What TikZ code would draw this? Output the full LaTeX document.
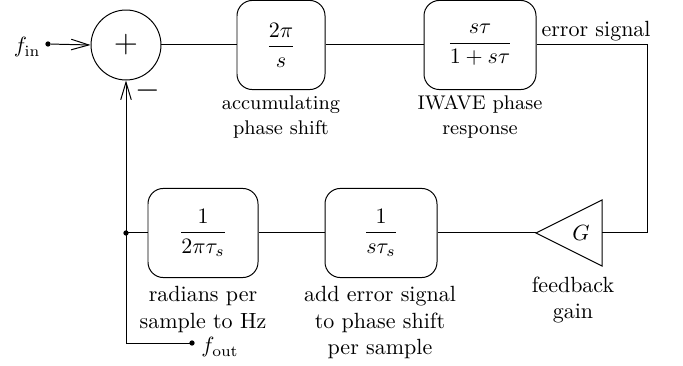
\documentclass[tikz,border=0pt]{standalone}
\usetikzlibrary{arrows.meta}
\begin{document}
\begin{tikzpicture}[x=0.4545pt,y=-0.4545pt,
  line width=0.45pt,
  blk/.style={draw, rounded corners=7pt, minimum height=40.5pt, inner sep=0pt},
  sumc/.style={draw, circle, minimum size=31.8pt, inner sep=0pt},
  toplab/.style={font=\small, align=center, inner sep=0pt},
  botlab/.style={align=center, inner sep=0pt},
  dotn/.style={circle, fill, inner sep=0pt, minimum size=2.4pt},
  arr/.style={-{Straight Barb[length=8pt,width=4.8pt]}}]
\useasboundingbox (0,0) rectangle (683,366);
% top row
\node[dotn] (fin) at (48,44) {};
\node[anchor=base east, inner sep=0pt] (finl) at (41,53) {$f_{\mathrm{in}}$};
\node[sumc] (sum) at (126,45) {\Large$+$};
\node (minus) at (148,91) {\Large$-$};
\node[blk, minimum width=40pt] (b1) at (281,45) {$\displaystyle\frac{2\pi}{s}$};
\node[blk, minimum width=50.9pt] (b2) at (480,45) {$\displaystyle\frac{s\tau}{1+s\tau}$};
\node[toplab, anchor=north] (l1) at (281,95) {accumulating\\[0.5pt]phase shift};
\node[toplab, anchor=north] (l2) at (480,95) {IWAVE phase\\[0.5pt]response};
\node[anchor=base west, inner sep=0pt] (err) at (541,36.5) {error signal};
% bottom row
\node[blk, minimum width=50pt] (b3) at (203,233) {$\displaystyle\frac{1}{2\pi\tau_s}$};
\node[blk, minimum width=50.9pt] (b4) at (381,233) {$\displaystyle\frac{1}{s\tau_s}$};
\node[botlab, anchor=north] (l3) at (203,286) {radians per\\sample to Hz};
\node[botlab, anchor=north] (l4) at (380,286) {add error signal\\to phase shift\\per sample};
\node[botlab, anchor=north] (l5) at (573,276) {feedback\\gain};
% gain triangle
\coordinate (gt) at (536,233);
\coordinate (gr) at (602,233);
\draw (gt) -- (602,200) -- (602,266) -- cycle;
\node (g) at (581,233) {$G$};
% junctions and corners
\node[dotn] (j) at (126,233) {};
\node[dotn] (fout) at (192,343) {};
\node[anchor=base west, inner sep=0pt] (foutl) at (201,353) {$f_{\mathrm{out}}$};
\coordinate (c1) at (647,45);
\coordinate (c2) at (647,233);
\coordinate (c3) at (126,343);
% connectors
\draw[arr] (fin) -- (sum.west);
\draw (sum.east) -- (b1.west);
\draw (b1.east) -- (b2.west);
\draw (b2.east) -- (c1) -- (c2) -- (gr);
\draw (gt) -- (b4.east);
\draw (b4.west) -- (b3.east);
\draw (b3.west) -- (j.center);
\draw[arr] (j.center) -- (sum.south);
\draw (j.center) -- (c3) -- (fout.center);
\end{tikzpicture}
\end{document}
